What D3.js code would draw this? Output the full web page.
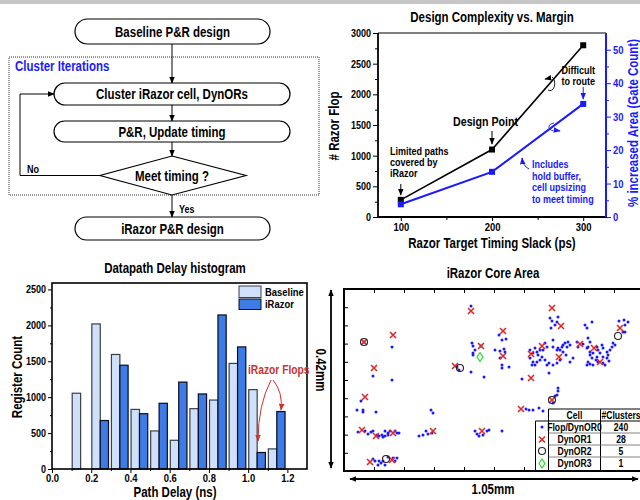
<!DOCTYPE html>
<html>
<head>
<meta charset="UTF-8">
<title>iRazor design flow</title>
<script src="https://cdn.jsdelivr.net/npm/d3@7"></script>
<style>
body{margin:0;background:#fff;}
svg text{font-family:"Liberation Sans Narrow","Arial Narrow","Liberation Sans",Arial,sans-serif;font-weight:bold;}
</style>
</head>
<body>
<script>
// ---------- data ----------
// design complexity vs. margin
var slack = [100, 200, 300];
var razorFlops = [280, 1100, 2800];
var areaIncrease = [3.8, 13.5, 33.8];

// datapath delay histogram (bin start, ns)
var binStart = [0.1, 0.2, 0.3, 0.4, 0.5, 0.6, 0.7, 0.8, 0.9, 1.0, 1.1];
var baselineCount = [1055, 2020, 1595, 830, 530, 400, 840, 960, 1470, 1105, 280];
var iRazorCount = [0, 675, 1445, 770, 915, 1210, 1045, 2145, 1700, 230, 800];

// core area placement, grid units (x 0-300 = 1.05mm, y 0-182 = 0.42mm)
var flops = [[127,165],[48,124],[29,95],[48,91],[128,128],[129,125],[131,121],[129,118],[129,116],[127,99],[140,94],[113,104],[115,101],[137,125],[20,129],
  [206,153],[208,150],[214,154],[213,149],[207,143],[211,146],[155,136],[158,131],[162,132],[151,121],[156,120],[160,122],[161,119],[158,106],[158,103],[165,104],[156,113],[178,92],[186,113],[189,109],[188,106],[189,118],[186,121],
  [191,123],[193,119],[196,121],[199,121],[203,124],[201,128],[194,116],[198,114],[201,111],[196,111],[193,109],[191,106],[203,106],[205,108],[205,98],[209,131],[209,124],[213,121],[214,123],[216,121],[218,124],[219,126],[221,128],[223,124],[224,129],[226,126],[219,119],[222,116],[226,109],[229,113],[209,106],[213,108],[216,111],
  [233,129],[234,124],[239,127],[241,146],[243,143],[248,149],[244,133],[246,129],[243,123],[246,119],[244,124],[246,116],[249,118],[253,124],[254,121],[258,126],[259,123],[256,118],[253,114],[248,113],[244,109],[243,106],[246,107],[249,106],[252,111],[254,109],[259,108],[261,106],[263,113],[264,116],[263,119],[266,121],[268,124],[271,126],[259,114],[265,110],[275,150],[280,151],[284,149],[281,146],[279,139],[281,139],[269,128],
  [17,70],[13,61],[19,61],[19,59],[32,59],[87,61],[89,58],
  [14,39],[21,40],[24,37],[27,39],[29,40],[33,36],[35,35],[38,36],[41,40],[41,35],[44,38],[46,40],[51,40],[53,38],[55,38],[39,34],[44,36],
  [75,35],[79,36],[82,40],[84,37],[88,38],
  [131,40],[133,37],[135,35],[139,36],[143,40],[145,41],
  [29,12],[31,10],[34,6],[37,8],[39,10],[44,14],[49,13],[53,13],[35,10],[41,6],[51,10],
  [214,83],[214,80],[213,76],[211,75],[209,68],[182,62],[185,61],[189,61],[195,63],[199,60],[158,40]];
var dynor1 = [[127,160],[20,129],[49,136],[30,103],[111,105],[137,125],[208,163],[217,145],[159,140],[159,115],[187,117],[187,93],[198,125],[215,114],
  [236,127],[250,123],[256,109],[276,143],[21,74],[18,41],[32,35],[49,38],[89,40],[138,40],[26,9],[48,11],[177,62],[208,71]];
var dynor2 = [[20,129],[116,103],[274,135],[42,12],[208,71]];
var dynor3 = [[136,114]];

var cellNames = ["Flop/DynOR0", "DynOR1", "DynOR2", "DynOR3"];
var clusterCounts = [240, 28, 5, 1];

var flowSteps = ["Baseline P&R design", "Cluster iRazor cell, DynORs", "P&R, Update timing", "iRazor P&R design"];

var BLUE = "#1a1aff";

var svg = d3.select("body").append("svg").attr("width", 640).attr("height", 500);
var defs = svg.append("defs");
function marker(id, color) {
  defs.append("marker").attr("id", id).attr("viewBox", "0 0 10 10")
    .attr("refX", 9).attr("refY", 5).attr("markerWidth", 7).attr("markerHeight", 7)
    .attr("markerUnits", "userSpaceOnUse").attr("orient", "auto-start-reverse")
    .append("path").attr("d", "M0,1L10,5L0,9z").attr("fill", color);
}
marker("arrK", "#000");
marker("arrB", BLUE);
marker("arrR", "#d03030");

svg.append("rect").attr("x", 0).attr("y", 0).attr("width", 640).attr("height", 4).attr("fill", "#c6c6c6");

function txt(g, x, y, s, size, color, anchor) {
  return g.append("text").attr("x", x).attr("y", y).text(s)
    .attr("font-size", size).attr("fill", color || "#000").attr("text-anchor", anchor || "start");
}

// ---------- flowchart ----------
var fc = svg.append("g");
fc.append("rect").attr("x", 9).attr("y", 57).attr("width", 310).attr("height", 138)
  .attr("fill", "none").attr("stroke", "#333").attr("stroke-dasharray", "1,1");
txt(fc, 15, 71, "Cluster Iterations", 14, BLUE);

var boxes = [[75, 19, 195, 25], [54, 83, 236, 22], [54, 121, 236, 21], [75, 217, 195, 23]];
boxes.forEach(function (b, i) {
  fc.append("rect").attr("x", b[0]).attr("y", b[1]).attr("width", b[2]).attr("height", b[3])
    .attr("rx", b[3] / 2).attr("fill", "#fff").attr("stroke", "#000").attr("stroke-width", 1.2);
  txt(fc, b[0] + b[2] / 2, b[1] + b[3] / 2 + 5, flowSteps[i], 14, "#000", "middle");
});
fc.append("path").attr("d", "M172,156L246,175.5L172,195L100,175.5Z")
  .attr("fill", "#fff").attr("stroke", "#000").attr("stroke-width", 1.2);
txt(fc, 172, 180.5, "Meet timing ?", 14, "#000", "middle");

[[44, 83], [105, 121], [142, 156], [195, 217]].forEach(function (a) {
  fc.append("line").attr("x1", 172).attr("x2", 172).attr("y1", a[0]).attr("y2", a[1])
    .attr("stroke", "#000").attr("marker-end", "url(#arrK)");
});
fc.append("path").attr("d", "M100,175.5H20V94H54").attr("fill", "none")
  .attr("stroke", "#000").attr("marker-end", "url(#arrK)");
txt(fc, 27, 173, "No", 11);
txt(fc, 179, 213, "Yes", 11);

// ---------- design complexity vs margin ----------
var g1 = svg.append("g");
var x1 = d3.scaleLinear().domain([75, 325]).range([378, 606]);
var yL = d3.scaleLinear().domain([0, 3000]).range([217, 33]);
var yR = d3.scaleLinear().domain([0, 55]).range([217, 33]);

txt(g1, 492, 22, "Design Complexity vs. Margin", 14, "#000", "middle");

function style(g, size, color) {
  g.select(".domain").remove();
  g.attr("font-size", size);
  g.selectAll("line").attr("stroke", color);
  g.selectAll("text").attr("fill", color);
}
var fmtInt = d3.format("d");
g1.append("g").attr("transform", "translate(378,0)")
  .call(d3.axisLeft(yL).tickValues(d3.range(250, 3000, 500)).tickSize(3).tickFormat(""))
  .call(function (g) { style(g, 11, "#000"); });
g1.append("g").attr("transform", "translate(378,0)")
  .call(d3.axisLeft(yL).tickValues(d3.range(0, 3001, 500)).tickSize(5).tickPadding(2).tickFormat(fmtInt))
  .call(function (g) { style(g, 11, "#000"); });
g1.append("g").attr("transform", "translate(0,217)")
  .call(d3.axisBottom(x1).tickValues([150, 250]).tickSize(3).tickFormat(""))
  .call(function (g) { style(g, 11, "#000"); });
g1.append("g").attr("transform", "translate(0,217)")
  .call(d3.axisBottom(x1).tickValues(slack).tickSize(4).tickPadding(2).tickFormat(fmtInt))
  .call(function (g) { style(g, 11.5, "#000"); });
g1.append("g").attr("transform", "translate(606,0)")
  .call(d3.axisRight(yR).tickValues(d3.range(5, 55, 10)).tickSize(3).tickFormat(""))
  .call(function (g) { style(g, 11, BLUE); });
g1.append("g").attr("transform", "translate(606,0)")
  .call(d3.axisRight(yR).tickValues(d3.range(0, 51, 10)).tickSize(5).tickPadding(2).tickFormat(fmtInt))
  .call(function (g) { style(g, 11.5, BLUE); });

g1.append("path").attr("d", "M378,33H606").attr("stroke", "#000").attr("stroke-width", 1.2);
g1.append("path").attr("d", "M378,33V217H606").attr("fill", "none").attr("stroke", "#000").attr("stroke-width", 1.8);
g1.append("path").attr("d", "M606,33V217").attr("stroke", BLUE).attr("stroke-width", 2);

var lineL = d3.line().x(function (d, i) { return x1(slack[i]); }).y(function (d) { return yL(d); });
var lineR = d3.line().x(function (d, i) { return x1(slack[i]); }).y(function (d) { return yR(d); });
g1.append("path").attr("d", lineL(razorFlops)).attr("fill", "none").attr("stroke", "#000").attr("stroke-width", 1.6);
g1.append("path").attr("d", lineR(areaIncrease)).attr("fill", "none").attr("stroke", BLUE).attr("stroke-width", 2);
g1.selectAll(".mk").data(razorFlops).enter().append("rect")
  .attr("x", function (d, i) { return x1(slack[i]) - 3; }).attr("y", function (d) { return yL(d) - 3; })
  .attr("width", 6).attr("height", 6).attr("fill", "#000");
g1.selectAll(".mkb").data(areaIncrease).enter().append("rect")
  .attr("x", function (d, i) { return x1(slack[i]) - 3; }).attr("y", function (d) { return yR(d) - 3; })
  .attr("width", 6).attr("height", 6).attr("fill", BLUE);

txt(g1, 492, 248, "Razor Target Timing Slack (ps)", 14, "#000", "middle");
txt(g1, 0, 0, "# Razor Flop", 14, "#000", "middle").attr("transform", "translate(339,126) rotate(-90)");
txt(g1, 0, 0, "% increased Area (Gate Count)", 14, BLUE, "middle").attr("transform", "translate(638,123) rotate(-90)");

// annotations
["Limited paths", "covered by", "iRazor"].forEach(function (s, i) { txt(g1, 390, 155 + i * 11, s, 11); });
g1.append("line").attr("x1", x1(100)).attr("x2", x1(100)).attr("y1", 184).attr("y2", 195).attr("stroke", "#000").attr("marker-end", "url(#arrK)");
txt(g1, 453, 126, "Design Point", 13);
g1.append("line").attr("x1", x1(200)).attr("x2", x1(200)).attr("y1", 131).attr("y2", 144).attr("stroke", "#000").attr("marker-end", "url(#arrK)");
txt(g1, 595, 74, "Difficult", 11, "#000", "end");
txt(g1, 595, 85, "to route", 11, "#000", "end");
g1.append("line").attr("x1", x1(300)).attr("x2", x1(300)).attr("y1", 87).attr("y2", 99).attr("stroke", BLUE).attr("marker-end", "url(#arrB)");
["Includes", "hold buffer,", "cell upsizing", "to meet timing"].forEach(function (s, i) { txt(g1, 532, 168 + i * 11.5, s, 11, BLUE); });
g1.append("path").attr("d", "M529,169Q523,166 522,158").attr("fill", "none").attr("stroke", BLUE).attr("marker-end", "url(#arrB)");
g1.append("path").attr("d", "M552,77A4,6 0 1,1 548,90").attr("fill", "none").attr("stroke", "#000").attr("stroke-width", 0.9);
g1.append("path").attr("d", "M550,78L545,79").attr("fill", "none").attr("stroke", "#000").attr("marker-end", "url(#arrK)");
g1.append("path").attr("d", "M554,123A6,4 0 1,0 556,131").attr("fill", "none").attr("stroke", BLUE).attr("stroke-width", 0.9);
g1.append("path").attr("d", "M554,130L560,131").attr("fill", "none").attr("stroke", BLUE).attr("marker-end", "url(#arrB)");

// ---------- histogram ----------
var g2 = svg.append("g");
var xH = d3.scaleLinear().domain([0, 1.3]).range([52, 307]);
var yH = d3.scaleLinear().domain([0, 2590]).range([469, 283]);
txt(g2, 175, 273, "Datapath Delay histogram", 14, "#000", "middle");

g2.selectAll(".base").data(baselineCount).enter().append("rect")
  .attr("x", function (d, i) { return xH(binStart[i] + 0.003); })
  .attr("width", xH(0.043) - xH(0))
  .attr("y", function (d) { return yH(d); })
  .attr("height", function (d) { return yH(0) - yH(d); })
  .attr("fill", "#cfe0fa").attr("stroke", "#3a3f48").attr("stroke-width", 1.2);
g2.selectAll(".irz").data(iRazorCount).enter().append("rect")
  .attr("x", function (d, i) { return xH(binStart[i] + 0.046); })
  .attr("width", xH(0.042) - xH(0))
  .attr("y", function (d) { return yH(d); })
  .attr("height", function (d) { return yH(0) - yH(d); })
  .attr("fill", "#3d7be6").attr("stroke", "#0a0a20").attr("stroke-width", 1.2);

g2.append("g").attr("transform", "translate(52,0)")
  .call(d3.axisLeft(yH).tickValues(d3.range(250, 2590, 500)).tickSize(2).tickFormat(""))
  .call(function (g) { style(g, 11, "#000"); });
g2.append("g").attr("transform", "translate(52,0)")
  .call(d3.axisLeft(yH).tickValues(d3.range(0, 2501, 500)).tickSize(4).tickPadding(2).tickFormat(fmtInt))
  .call(function (g) { style(g, 11, "#000"); });
g2.append("g").attr("transform", "translate(0,469)")
  .call(d3.axisBottom(xH).tickValues(d3.range(0.1, 1.3, 0.2)).tickSize(2).tickFormat(""))
  .call(function (g) { style(g, 11, "#000"); });
g2.append("g").attr("transform", "translate(0,469)")
  .call(d3.axisBottom(xH).tickValues(d3.range(0, 1.21, 0.2)).tickSize(4).tickPadding(1).tickFormat(d3.format(".1f")))
  .call(function (g) { style(g, 11.5, "#000"); });
g2.append("rect").attr("x", 52).attr("y", 283).attr("width", 255).attr("height", 186)
  .attr("fill", "none").attr("stroke", "#000").attr("stroke-width", 1.6);

g2.append("rect").attr("x", 239).attr("y", 286).attr("width", 22).attr("height", 11.5).attr("fill", "#cfe0fa").attr("stroke", "#3a3f48");
g2.append("rect").attr("x", 239).attr("y", 299).attr("width", 22).attr("height", 10.5).attr("fill", "#3d7be6").attr("stroke", "#0a0a20");
txt(g2, 265, 295.5, "Baseline", 11.5);
txt(g2, 265, 308, "iRazor", 11.5);

txt(g2, 175, 497, "Path Delay (ns)", 14, "#000", "middle");
txt(g2, 0, 0, "Register Count", 14, "#000", "middle").attr("transform", "translate(22,377) rotate(-90)");
txt(g2, 248, 374, "iRazor Flops", 12.5, "#d03030");
g2.append("path").attr("d", "M271,380Q258,405 258,441").attr("fill", "none").attr("stroke", "#d03030").attr("marker-end", "url(#arrR)");
g2.append("path").attr("d", "M273,380Q283,392 281,410").attr("fill", "none").attr("stroke", "#d03030").attr("marker-end", "url(#arrR)");

// ---------- core area scatter ----------
var g3 = svg.append("g");
var xS = d3.scaleLinear().domain([0, 300]).range([344, 644]);
var yS = d3.scaleLinear().domain([0, 182]).range([471, 289]);
txt(g3, 493, 278, "iRazor Core Area", 14, "#000", "middle");

g3.append("g").attr("transform", "translate(0,289)")
  .call(d3.axisTop(xS).tickValues(d3.range(30, 300, 30)).tickSize(-4).tickFormat(""))
  .call(function (g) { style(g, 10, "#000"); });
g3.append("g").attr("transform", "translate(0,471)")
  .call(d3.axisBottom(xS).tickValues(d3.range(30, 300, 30)).tickSize(-4).tickFormat(""))
  .call(function (g) { style(g, 10, "#000"); });
g3.append("g").attr("transform", "translate(344,0)")
  .call(d3.axisLeft(yS).tickValues(d3.range(18.2, 182, 18.2)).tickSize(-4).tickFormat(""))
  .call(function (g) { style(g, 10, "#000"); });

g3.selectAll(".fl").data(flops).enter().append("circle")
  .attr("cx", function (d) { return xS(d[0]); }).attr("cy", function (d) { return yS(d[1]); })
  .attr("r", 1.5).attr("fill", BLUE);
function cross(g, x, y, s) {
  g.append("path").attr("d", "M" + (x - s) + "," + (y - s) + "L" + (x + s) + "," + (y + s) + "M" + (x + s) + "," + (y - s) + "L" + (x - s) + "," + (y + s))
    .attr("stroke", "#e02828").attr("stroke-width", 1.6).attr("fill", "none");
}
dynor1.forEach(function (d) { cross(g3, xS(d[0]), yS(d[1]), 3); });
g3.selectAll(".d2").data(dynor2).enter().append("circle")
  .attr("cx", function (d) { return xS(d[0]); }).attr("cy", function (d) { return yS(d[1]); })
  .attr("r", 3.5).attr("fill", "none").attr("stroke", "#222").attr("stroke-width", 1.1);
function diamond(g, x, y, w, h) {
  g.append("path").attr("d", "M" + x + "," + (y - h) + "L" + (x + w) + "," + y + "L" + x + "," + (y + h) + "L" + (x - w) + "," + y + "Z")
    .attr("fill", "none").attr("stroke", "#22dd22").attr("stroke-width", 1.2);
}
dynor3.forEach(function (d) { diamond(g3, xS(d[0]), yS(d[1]), 3, 4.5); });

g3.append("rect").attr("x", 344).attr("y", 289).attr("width", 300).attr("height", 182)
  .attr("fill", "none").attr("stroke", "#000").attr("stroke-width", 2);

// legend table
var tb = g3.append("g");
var colX = [535.5, 548.5, 600.5, 644];
var rowY = [409, 421, 433, 445, 457, 470];
tb.append("rect").attr("x", colX[1]).attr("y", rowY[0]).attr("width", colX[3] - colX[1]).attr("height", rowY[1] - rowY[0]).attr("fill", "#fff");
tb.append("rect").attr("x", colX[0]).attr("y", rowY[1]).attr("width", colX[3] - colX[0]).attr("height", rowY[5] - rowY[1]).attr("fill", "#fff");
tb.append("path").attr("fill", "none").attr("stroke", "#000").attr("stroke-width", 1)
  .attr("d", "M" + colX[1] + "," + rowY[0] + "H644M" + colX[0] + "," + rowY[1] + "H644M" + colX[0] + "," + rowY[1] + "V" + rowY[5] +
    "M" + colX[1] + "," + rowY[0] + "V" + rowY[5] + "M" + colX[2] + "," + rowY[0] + "V" + rowY[5]);
tb.append("path").attr("fill", "none").attr("stroke", "#666").attr("stroke-width", 0.8)
  .attr("d", "M" + colX[1] + "," + rowY[2] + "H644M" + colX[1] + "," + rowY[3] + "H644M" + colX[1] + "," + rowY[4] + "H644");
txt(tb, (colX[1] + colX[2]) / 2, rowY[0] + 9.5, "Cell", 10.5, "#000", "middle");
txt(tb, 621, rowY[0] + 9.5, "#Clusters", 10.5, "#000", "middle");
cellNames.forEach(function (s, i) {
  txt(tb, (colX[1] + colX[2]) / 2, rowY[i + 1] + 9.5, s, 10.5, "#000", "middle");
  txt(tb, 621, rowY[i + 1] + 9.5, clusterCounts[i], 10.5, "#000", "middle");
});
var ic = (colX[0] + colX[1]) / 2;
tb.append("circle").attr("cx", ic).attr("cy", rowY[1] + 6).attr("r", 1.5).attr("fill", BLUE);
cross(tb, ic, rowY[2] + 6.5, 3);
tb.append("circle").attr("cx", ic).attr("cy", rowY[3] + 6).attr("r", 3.5).attr("fill", "none").attr("stroke", "#222").attr("stroke-width", 1.1);
diamond(tb, ic, rowY[4] + 6.5, 3, 4.5);

// dimension arrows
g3.append("line").attr("x1", 331).attr("x2", 331).attr("y1", 290).attr("y2", 468)
  .attr("stroke", "#000").attr("stroke-width", 1.8).attr("marker-start", "url(#arrK)").attr("marker-end", "url(#arrK)");
g3.append("line").attr("x1", 350).attr("x2", 638).attr("y1", 479).attr("y2", 479)
  .attr("stroke", "#000").attr("stroke-width", 1.8).attr("marker-start", "url(#arrK)").attr("marker-end", "url(#arrK)");
txt(g3, 0, 0, "0.42mm", 14, "#000", "middle").attr("transform", "translate(316,370) rotate(90)");
txt(g3, 493, 494, "1.05mm", 14, "#000", "middle");

// the original uses a narrow bold face; squeeze the regular bold face to match
svg.selectAll("text").each(function () {
  var len = this.getComputedTextLength();
  if (len > 0) d3.select(this).attr("textLength", len * 0.82).attr("lengthAdjust", "spacingAndGlyphs");
});
</script>
</body>
</html>
